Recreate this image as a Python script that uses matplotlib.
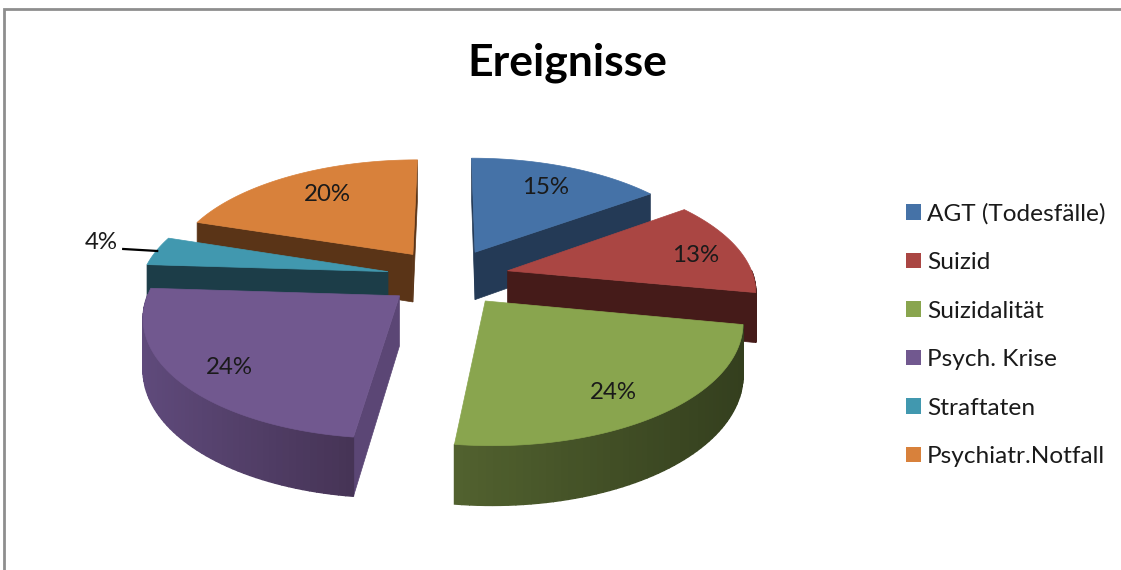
import numpy as np
import matplotlib
matplotlib.use("Agg")
import matplotlib.pyplot as plt
from matplotlib.patches import Patch, Polygon
from matplotlib.colors import to_rgb

plt.rcParams['font.family'] = ['Lato', 'DejaVu Sans']

# data
title = "Ereignisse"
categories = ["AGT (Todesfälle)", "Suizid", "Suizidalität", "Psych. Krise", "Straftaten", "Psychiatr.Notfall"]
values = [15, 13, 24, 24, 4, 20]
labels = ["15%", "13%", "24%", "24%", "4%", "20%"]

# colours: top face, wall on the light end, wall on the dark end
top_col = ["#4572A7", "#AA4643", "#89A54E", "#71588F", "#4198AF", "#D8813B"]
wall_light = ["#243A56", "#451B19", "#52622F", "#5F4A7B", "#1C3D48", "#5A3417"]
wall_dark = ["#243A56", "#451B19", "#343F1E", "#463456", "#1C3D48", "#5A3417"]
side_col = ["#243A56", "#451B19", "#3A4620", "#5B4675", "#1C3D48", "#5A3417"]

# painter's order, back slices first
draw_order = [0, 5, 1, 4, 2, 3]

# label placement inside a slice: fraction of radius, angle offset from the middle
label_r = [0.74, 0.80, 0.80, 0.81, None, 0.72]
label_da = [0, 3, 3, -2.5, 0, 2]

# view of the pie, in pixels
cx, cy = 448, 277
fx, fy = 246, 115     # radius across / foreshortened depth
persp = 0.15
thick = 49
explode = 0.25


def project(X, Y, Z=0):
    # Z=0 top face, Z=1 bottom face
    w = 1 + persp * Y
    return cx + fx * X / w, cy - fy * Y / w + thick * Z / w


def signed_area(px, py):
    return 0.5 * np.sum(px * np.roll(py, -1) - np.roll(px, -1) * py)


fig = plt.figure(figsize=(11.21, 5.70), dpi=100)
ax = fig.add_axes([0, 0, 1, 1])
ax.set_xlim(0, 1121)
ax.set_ylim(570, 0)
ax.axis("off")

# chart frame (only left and top are in the crop)
ax.plot([4, 4, 1121], [570, 9, 9], color="#8E8E8E", lw=2.0, solid_joinstyle="miter")

vals = np.array(values, dtype=float)
edges = np.concatenate([[0], np.cumsum(vals)]) / vals.sum() * 360
mids = (edges[:-1] + edges[1:]) / 2

for i in draw_order:
    a0, a1 = np.radians(edges[i]), np.radians(edges[i + 1])
    m = np.radians(mids[i])
    ox, oy = explode * np.sin(m), explode * np.cos(m)
    th = np.linspace(a0, a1, 60)
    X = ox + np.sin(th)
    Y = oy + np.cos(th)

    # radial side faces, only the ones turned to the viewer
    for k in [0, -1]:
        qx = np.array([ox, X[k], X[k], ox])
        qy = np.array([oy, Y[k], Y[k], oy])
        qz = np.array([0, 0, 1, 1])
        px, py = project(qx, qy, qz)
        if (signed_area(px, py) > 0) != (k == -1):
            continue
        ax.add_patch(Polygon(np.c_[px, py], closed=True, fc=side_col[i], ec=side_col[i], lw=0.5))

    # outer wall, split up to get the shading
    tx, ty = project(X, Y, 0)
    bx, by = project(X, Y, 1)
    light, dark = np.array(to_rgb(wall_light[i])), np.array(to_rgb(wall_dark[i]))
    for j in range(len(th) - 1):
        if np.cos((th[j] + th[j + 1]) / 2) >= 0:
            continue
        t = (tx[j] - tx.min()) / (tx.max() - tx.min())
        c = light + (dark - light) * t
        q = np.array([[tx[j], ty[j]], [tx[j + 1], ty[j + 1]], [bx[j + 1], by[j + 1]], [bx[j], by[j]]])
        ax.add_patch(Polygon(q, closed=True, fc=c, ec=c, lw=1.0))

    # top face
    px, py = project(np.r_[ox, X], np.r_[oy, Y], 0)
    ax.add_patch(Polygon(np.c_[px, py], closed=True, fc=top_col[i], ec=top_col[i], lw=0.5))

# value labels
for i, lab in enumerate(labels):
    m = np.radians(mids[i])
    ox, oy = explode * np.sin(m), explode * np.cos(m)
    if label_r[i] is None:
        # small slice gets its label outside with a leader line
        lx, ly = project(ox + np.sin(m), oy + np.cos(m), 0)
        ax.plot([lx - 33, lx + 1], [ly - 2, ly], color="black", lw=1.6)
        ax.text(lx - 55, ly - 8, lab, fontsize=17.3, color="#1a1a1a", ha="center", va="center")
        continue
    a = m + np.radians(label_da[i])
    lx, ly = project(ox + label_r[i] * np.sin(a), oy + label_r[i] * np.cos(a), 0)
    ax.text(lx, ly, lab, fontsize=17.3, color="#1a1a1a", ha="center", va="center")

ax.text(567, 63, title, fontsize=32, fontweight="bold", color="black", ha="center", va="center")

handles = [Patch(facecolor=c, edgecolor="none") for c in top_col]
leg = ax.legend(handles, categories, loc="center left", bbox_to_anchor=(906 / 1121, 1 - 335 / 570),
                frameon=False, fontsize=17.6, handlelength=0.6, handleheight=0.6,
                handletextpad=0.26, labelspacing=1.125, borderpad=0, borderaxespad=0,
                labelcolor="#1a1a1a")

fig.savefig("out.png", dpi=100, facecolor="white")
